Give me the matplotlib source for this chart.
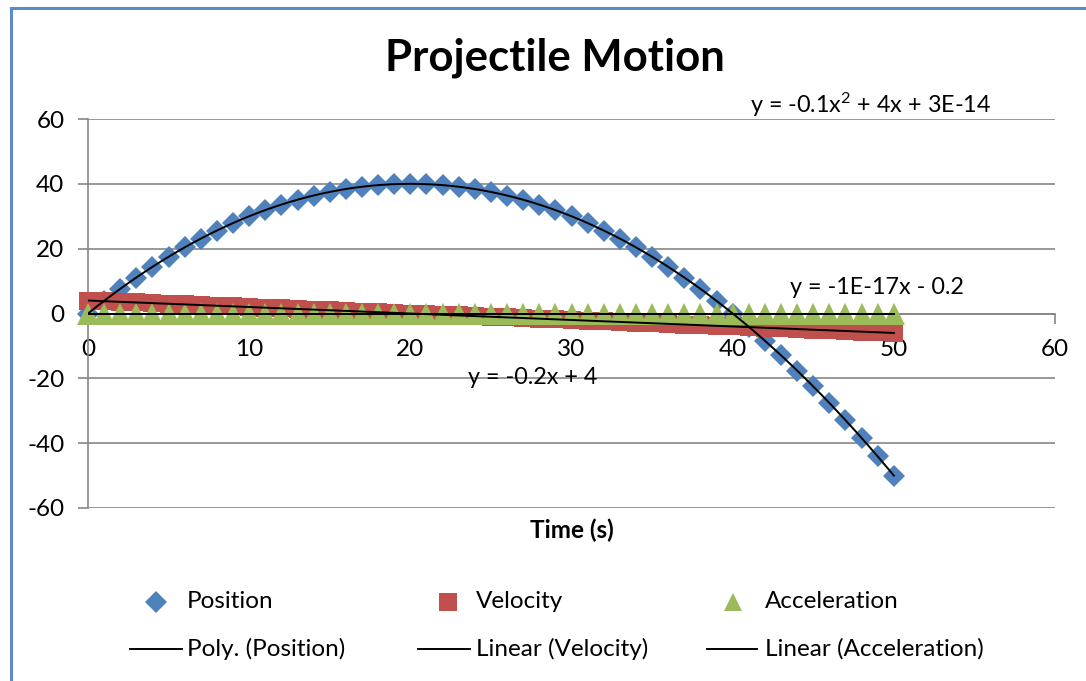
import numpy as np
import matplotlib
matplotlib.use("Agg")
import matplotlib.pyplot as plt
from matplotlib.lines import Line2D
from matplotlib.patches import Rectangle

plt.rcParams['font.family'] = ['Lato', 'DejaVu Sans']
plt.rcParams['axes.unicode_minus'] = False
plt.rcParams['mathtext.fontset'] = 'custom'
plt.rcParams['mathtext.rm'] = 'Lato'
plt.rcParams['mathtext.default'] = 'rm'

# ---------------- data ----------------
time_s = list(range(0, 51))
position = [0, 3.9, 7.6, 11.1, 14.4, 17.5, 20.4, 23.1, 25.6, 27.9,
            30, 31.9, 33.6, 35.1, 36.4, 37.5, 38.4, 39.1, 39.6, 39.9,
            40, 39.9, 39.6, 39.1, 38.4, 37.5, 36.4, 35.1, 33.6, 31.9,
            30, 27.9, 25.6, 23.1, 20.4, 17.5, 14.4, 11.1, 7.6, 3.9,
            0, -4.1, -8.4, -12.9, -17.6, -22.5, -27.6, -32.9, -38.4, -44.1,
            -50]
velocity = [4.0, 3.8, 3.6, 3.4, 3.2, 3.0, 2.8, 2.6, 2.4, 2.2,
            2.0, 1.8, 1.6, 1.4, 1.2, 1.0, 0.8, 0.6, 0.4, 0.2,
            0.0, -0.2, -0.4, -0.6, -0.8, -1.0, -1.2, -1.4, -1.6, -1.8,
            -2.0, -2.2, -2.4, -2.6, -2.8, -3.0, -3.2, -3.4, -3.6, -3.8,
            -4.0, -4.2, -4.4, -4.6, -4.8, -5.0, -5.2, -5.4, -5.6, -5.8,
            -6.0]
acceleration = [-0.2, -0.2, -0.2, -0.2, -0.2, -0.2, -0.2, -0.2, -0.2, -0.2,
                -0.2, -0.2, -0.2, -0.2, -0.2, -0.2, -0.2, -0.2, -0.2, -0.2,
                -0.2, -0.2, -0.2, -0.2, -0.2, -0.2, -0.2, -0.2, -0.2, -0.2,
                -0.2, -0.2, -0.2, -0.2, -0.2, -0.2, -0.2, -0.2, -0.2, -0.2,
                -0.2, -0.2, -0.2, -0.2, -0.2, -0.2, -0.2, -0.2, -0.2, -0.2,
                -0.2]
series_names = ["Position", "Velocity", "Acceleration"]
trend_names = ["Poly. (Position)", "Linear (Velocity)", "Linear (Acceleration)"]
equations = ["y = -0.1x$^{2}$ + 4x + 3E-14", "y = -0.2x + 4", "y = -1E-17x - 0.2"]
x_ticks = [0, 10, 20, 30, 40, 50, 60]
y_ticks = [-60, -40, -20, 0, 20, 40, 60]

BLUE, RED, GREEN = "#4F81BD", "#C0504D", "#9BBB59"
GRAY = "#868686"
W, H = 1086, 681

fig = plt.figure(figsize=(W / 100, H / 100), dpi=100)

def fx(px):
    return px / W

def fy(py):
    return 1 - py / H

# outer chart border (blue)
fig.patches.append(Rectangle((fx(11), -0.2), 1.5, fy(8) + 0.2, transform=fig.transFigure,
                             fill=False, edgecolor="#5B8BC8", linewidth=2.2))

ax = fig.add_axes([fx(88), fy(508), fx(1055) - fx(88), fy(119) - fy(508)])
ax.set_xlim(0, 60)
ax.set_ylim(-60, 60)
ax.set_facecolor("none")

for s in ["top", "right"]:
    ax.spines[s].set_visible(False)
ax.spines["left"].set_color(GRAY)
ax.spines["bottom"].set_color(GRAY)
ax.spines["bottom"].set_position(("data", 0))
ax.spines["left"].set_linewidth(1.2)
ax.spines["bottom"].set_linewidth(1.2)

ax.set_xticks(x_ticks)
ax.set_yticks(y_ticks)
ax.tick_params(axis="both", direction="out", length=7, width=1.2, color=GRAY,
               labelsize=17.5, labelcolor="black")
ax.tick_params(axis="y", pad=10)
ax.tick_params(axis="x", pad=11)
ax.yaxis.grid(True, color=GRAY, linewidth=1.2)
ax.set_axisbelow(True)

# data series
ax.plot(time_s, position, linestyle="none", marker="D", markersize=11,
        color=BLUE, markeredgewidth=0, clip_on=False, zorder=3)
ax.plot(time_s, velocity, linestyle="none", marker="s", markersize=13.5,
        color=RED, markeredgewidth=0, clip_on=False, zorder=4)
ax.plot(time_s, acceleration, linestyle="none", marker="^", markersize=15.5,
        color=GREEN, markeredgewidth=0, clip_on=False, zorder=5)

# trendlines
xs = np.linspace(min(time_s), max(time_s), 400)
pp = np.polyfit(time_s, position, 2)
pv = np.polyfit(time_s, velocity, 1)
pa = np.polyfit(time_s, acceleration, 1)
for p in (pp, pv, pa):
    ax.plot(xs, np.polyval(p, xs), color="black", linewidth=1.4, zorder=6)

# title / labels
fig.text(fx(555), fy(58), "Projectile Motion", ha="center", va="center",
         fontsize=31.5, fontweight="bold")
fig.text(fx(572), fy(530), "Time (s)", ha="center", va="center",
         fontsize=17.5, fontweight="bold")

# equation labels
fig.text(fx(750), fy(105), equations[0], ha="left", va="center", fontsize=16.8)
fig.text(fx(468), fy(378), equations[1], ha="left", va="center", fontsize=16.8)
fig.text(fx(790), fy(288), equations[2], ha="left", va="center", fontsize=16.8)

# legend (manual, Excel-like layout)
marker_x = [156, 448, 733]
text_x = [187, 476, 765]
line_x = [(130, 182), (418, 470), (707, 757)]
row1, row2 = 602, 649
styles = [("D", BLUE, 11), ("s", RED, 13), ("^", GREEN, 13)]
for i in range(3):
    m, c, ms = styles[i]
    fig.add_artist(Line2D([fx(marker_x[i])], [fy(row1)], transform=fig.transFigure,
                          linestyle="none", marker=m, markersize=ms, color=c,
                          markeredgewidth=0))
    fig.text(fx(text_x[i]), fy(row1), series_names[i], ha="left", va="center", fontsize=17.5)
    fig.add_artist(Line2D([fx(line_x[i][0]), fx(line_x[i][1])], [fy(row2), fy(row2)],
                          transform=fig.transFigure, color="black", linewidth=1.4))
    fig.text(fx(text_x[i]), fy(row2), trend_names[i], ha="left", va="center", fontsize=17.5)

fig.savefig("out.png", dpi=100)
